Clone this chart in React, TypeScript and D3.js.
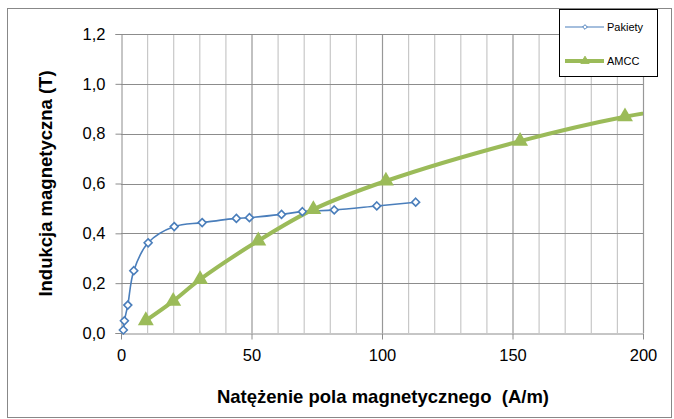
import { useEffect, useRef } from "react";
import * as d3 from "d3";

// Pakiety (blue, diamonds)
const pakietyH = [0.9, 1.3, 2.6, 4.9, 10.4, 20.4, 31.1, 44.2, 49.2, 61.5, 69.5, 81.7, 98, 112.9];
const pakietyB = [0.012, 0.049, 0.112, 0.25, 0.362, 0.427, 0.443, 0.46, 0.463, 0.476, 0.487, 0.494, 0.51, 0.525];

// AMCC (green, triangles); last point lies past the axis and is clipped
const amccH = [9.5, 20, 30.3, 52.6, 73.7, 101.5, 152.9, 193.1, 215];
const amccB = [0.05, 0.128, 0.215, 0.37, 0.496, 0.61, 0.77, 0.868, 0.904];

const xTicks = [0, 50, 100, 150, 200];
const yTicks = [0, 0.2, 0.4, 0.6, 0.8, 1.0, 1.2];
const xMinor = d3.range(0, 201, 10);

const seriesNames = ["Pakiety", "AMCC"];
const xTitle = "Natężenie pola magnetycznego  (A/m)";
const yTitle = "Indukcja magnetyczna (T)";

const W = 674;
const H = 419;
const MARGIN = { top: 34, right: 31, bottom: 86, left: 121 };
const BLUE = "#4a7ebb";
const GREEN = "#9bbb59";
const FONT = "Liberation Sans, Arial, sans-serif";

export default function App() {
  const svgRef = useRef<SVGSVGElement>(null);

  useEffect(() => {
    if (!svgRef.current) return;
    const svg = d3.select(svgRef.current);
    svg.selectAll("*").remove();

    const w = W - MARGIN.left - MARGIN.right;
    const h = H - MARGIN.top - MARGIN.bottom;

    const x = d3.scaleLinear().domain([0, 200]).range([0, w]);
    const y = d3.scaleLinear().domain([0, 1.2]).range([h, 0]);

    svg.append("rect").attr("width", W).attr("height", H).attr("fill", "#fff");

    // chart frame
    svg
      .append("rect")
      .attr("x", 7.5)
      .attr("y", 8.5)
      .attr("width", 664)
      .attr("height", 409)
      .attr("fill", "none")
      .attr("stroke", "#888");

    const g = svg.append("g").attr("transform", `translate(${MARGIN.left},${MARGIN.top})`);

    // minor vertical grid
    g.append("g")
      .selectAll("line")
      .data(xMinor.filter((d) => d % 50 !== 0))
      .join("line")
      .attr("x1", (d) => x(d) + 0.5)
      .attr("x2", (d) => x(d) + 0.5)
      .attr("y1", 0)
      .attr("y2", h)
      .attr("stroke", "#c8c8c8")
      .attr("stroke-width", 1.2);

    // major vertical grid
    g.append("g")
      .selectAll("line")
      .data(xTicks.slice(1))
      .join("line")
      .attr("x1", (d) => x(d) + 0.5)
      .attr("x2", (d) => x(d) + 0.5)
      .attr("y1", 0)
      .attr("y2", h)
      .attr("stroke", "#989898")
      .attr("stroke-width", 1.2);

    // horizontal grid
    g.append("g")
      .selectAll("line")
      .data(yTicks.slice(1))
      .join("line")
      .attr("x1", 0)
      .attr("x2", w)
      .attr("y1", (d) => Math.round(y(d)) + 0.5)
      .attr("y2", (d) => Math.round(y(d)) + 0.5)
      .attr("stroke", "#8c8c8c")
      .attr("stroke-width", 1.2);

    // Y axis
    g.append("g")
      .attr("transform", "translate(0.5,0)")
      .call(d3.axisLeft(y).tickValues(yTicks).tickSize(6).tickPadding(10).tickFormat((d) => d3.format(".1f")(d as number).replace(".", ",")))
      .call((a) => a.select(".domain").attr("stroke", "#8c8c8c"))
      .call((a) => a.selectAll(".tick line").attr("stroke", "#8c8c8c"))
      .call((a) =>
        a.selectAll(".tick text").attr("font-family", FONT).attr("font-size", "16.5px").attr("fill", "#000")
      );

    // X axis
    g.append("g")
      .attr("transform", `translate(0,${h + 0.5})`)
      .call(d3.axisBottom(x).tickValues(xTicks).tickSize(6).tickPadding(10).tickSizeOuter(0))
      .call((a) => a.select(".domain").attr("stroke", "#8c8c8c"))
      .call((a) => a.selectAll(".tick line").attr("stroke", "#8c8c8c"))
      .call((a) =>
        a.selectAll(".tick text").attr("font-family", FONT).attr("font-size", "16.5px").attr("fill", "#000")
      );

    // clip for plot area
    svg
      .append("defs")
      .append("clipPath")
      .attr("id", "plot-clip")
      .append("rect")
      .attr("x", -2)
      .attr("y", -20)
      .attr("width", w + 2)
      .attr("height", h + 40);

    type Pt = { hv: number; bv: number };
    const line = d3
      .line<Pt>()
      .x((d) => x(d.hv))
      .y((d) => y(d.bv))
      .curve(d3.curveCatmullRom.alpha(0.5));

    const pak: Pt[] = pakietyH.map((hv, i) => ({ hv, bv: pakietyB[i] }));
    const amcc: Pt[] = amccH.map((hv, i) => ({ hv, bv: amccB[i] }));

    // AMCC line
    g.append("path")
      .datum(amcc)
      .attr("clip-path", "url(#plot-clip)")
      .attr("d", line)
      .attr("fill", "none")
      .attr("stroke", GREEN)
      .attr("stroke-width", 4)
      .attr("stroke-linejoin", "round");

    // Pakiety line
    g.append("path")
      .datum(pak)
      .attr("d", line)
      .attr("fill", "none")
      .attr("stroke", BLUE)
      .attr("stroke-width", 1.6);

    const diamond = d3.symbol().type(d3.symbolDiamond2).size(40);
    const triangle = d3.symbol().type(d3.symbolTriangle).size(110);

    g.append("g")
      .selectAll("path")
      .data(pak)
      .join("path")
      .attr("d", diamond)
      .attr("transform", (d) => `translate(${x(d.hv)},${y(d.bv)})`)
      .attr("fill", "#fff")
      .attr("stroke", BLUE)
      .attr("stroke-width", 1.6);

    g.append("g")
      .selectAll("path")
      .data(amcc.filter((d) => d.hv <= 200))
      .join("path")
      .attr("d", triangle)
      .attr("transform", (d) => `translate(${x(d.hv)},${y(d.bv)})`)
      .attr("fill", GREEN);

    // axis titles
    svg
      .append("text")
      .attr("transform", `translate(52,${MARGIN.top + h / 2}) rotate(-90)`)
      .attr("text-anchor", "middle")
      .attr("font-family", FONT)
      .attr("font-size", "18.5px")
      .attr("font-weight", "bold")
      .text(yTitle);

    svg
      .append("text")
      .attr("x", MARGIN.left + w / 2 + 1)
      .attr("y", 403)
      .attr("text-anchor", "middle")
      .attr("font-family", FONT)
      .attr("font-size", "18.5px")
      .attr("font-weight", "bold")
      .attr("xml:space", "preserve")
      .style("white-space", "pre")
      .text(xTitle);

    // legend
    const lg = svg.append("g");
    lg.append("rect")
      .attr("x", 559.5)
      .attr("y", 9.5)
      .attr("width", 98)
      .attr("height", 67)
      .attr("fill", "#fff")
      .attr("stroke", "#000");

    const items = [
      { name: seriesNames[0], color: BLUE, sw: 1.2, sym: d3.symbol().type(d3.symbolDiamond2).size(14), fill: "#fff", ly: 27 },
      { name: seriesNames[1], color: GREEN, sw: 4, sym: d3.symbol().type(d3.symbolTriangle).size(30), fill: GREEN, ly: 61 },
    ];
    items.forEach((it) => {
      lg.append("line")
        .attr("x1", 565)
        .attr("x2", 604)
        .attr("y1", it.ly)
        .attr("y2", it.ly)
        .attr("stroke", it.color)
        .attr("stroke-width", it.sw);
      lg.append("path")
        .attr("d", it.sym)
        .attr("transform", `translate(585,${it.ly})`)
        .attr("fill", it.fill)
        .attr("stroke", it.color)
        .attr("stroke-width", 1);
      lg.append("text")
        .attr("x", 607)
        .attr("y", it.ly + 4)
        .attr("font-family", FONT)
        .attr("font-size", "11px")
        .attr("fill", "#000")
        .text(it.name);
    });
  }, []);

  return (
    <svg
      ref={svgRef}
      width={W}
      height={H}
      style={{ position: "absolute", left: 0, top: 0 }}
      role="img"
      aria-label="B-H magnetization curves"
    />
  );
}
